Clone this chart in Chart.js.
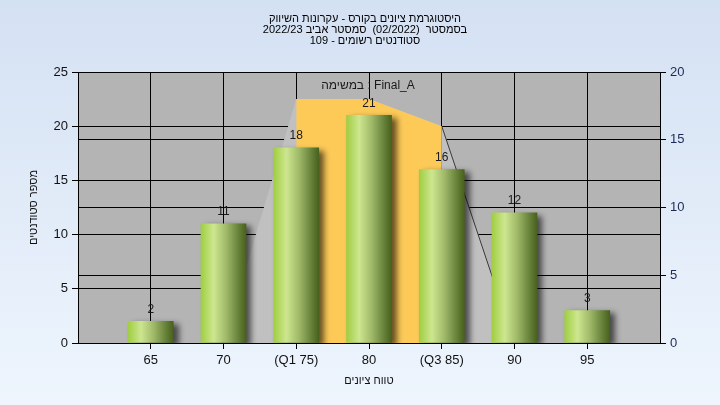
<!DOCTYPE html>
<html>
<head>
<meta charset="utf-8">
<script src="https://cdn.jsdelivr.net/npm/chart.js@4.4.0/dist/chart.umd.min.js"></script>
<style>
  html, body { margin: 0; padding: 0; }
  #wrap { width: 720px; height: 405px; }
</style>
</head>
<body>
<div id="wrap"><canvas id="histChart"></canvas></div>
<script>
// נתוני ההיסטוגרמה
const grades = [65, 70, 75, 80, 85, 90, 95];
const studentCounts = [2, 11, 18, 21, 16, 12, 3];
const q1Grade = 75;
const q3Grade = 85;

// עקומת ההתפלגות (ציר ימני)
const curveGrades = [70, 75, 80, 85, 90];
const curveValues = [0, 18, 18, 16, 0];

const titleLines = [
    'היסטוגרמת ציונים בקורס - עקרונות השיווק',
    'בסמסטר  (02/2022)  סמסטר אביב 2022/23',
    'סטודנטים רשומים - 109'
];
const xTitle = 'טווח ציונים';
const yTitle = 'מספר סטודנטים';
const legendText = 'במשימה : Final_A';

const FONT = "'Liberation Sans', Arial, sans-serif";

function tickLabel(v) {
    if (v === q1Grade) return '(Q1 ' + v + ')';
    if (v === q3Grade) return '(Q3 ' + v + ')';
    if (v <= 60 || v >= 100) return '';
    return String(v);
}

const backgroundPlugin = {
    id: 'background',
    beforeDraw(chart) {
        const ctx = chart.ctx;
        const a = chart.chartArea;
        const g = ctx.createLinearGradient(0, 0, 0, chart.height);
        g.addColorStop(0, '#d4e1f3');
        g.addColorStop(1, '#eef5fd');
        ctx.save();
        ctx.fillStyle = g;
        ctx.fillRect(0, 0, chart.width, chart.height);
        ctx.fillStyle = '#b4b4b4';
        ctx.fillRect(a.left, a.top, a.right - a.left, a.bottom - a.top);
        ctx.restore();
    },
    afterDraw(chart) {
        const ctx = chart.ctx;
        ctx.save();
        ctx.direction = 'rtl';
        ctx.fillStyle = '#000';
        ctx.font = '11px ' + FONT;
        ctx.textAlign = 'center';
        ctx.textBaseline = 'middle';
        titleLines.forEach((t, i) => ctx.fillText(t, 365, 19 + i * 11));
        ctx.restore();
    }
};

const shadowPlugin = {
    id: 'barShadow',
    beforeDatasetDraw(chart, args) {
        if (args.meta.type !== 'bar') return;
        const ctx = chart.ctx;
        ctx.save();
        ctx.shadowColor = 'rgba(0,0,0,0.6)';
        ctx.shadowBlur = 6;
        ctx.shadowOffsetX = 5;
        ctx.shadowOffsetY = 3;
    },
    afterDatasetDraw(chart, args) {
        if (args.meta.type !== 'bar') return;
        chart.ctx.restore();
    }
};

const labelsPlugin = {
    id: 'valueLabels',
    afterDatasetsDraw(chart) {
        const ctx = chart.ctx;
        const meta = chart.getDatasetMeta(0);
        ctx.save();
        ctx.font = '12px ' + FONT;
        ctx.fillStyle = '#1a1a1a';
        ctx.textAlign = 'center';
        ctx.textBaseline = 'middle';
        meta.data.forEach((bar, i) => {
            ctx.fillText(String(studentCounts[i]), bar.x, bar.y - 12);
        });
        ctx.fillText(legendText, 368, 86);
        ctx.restore();
    }
};

function barGradient(c) {
    const chart = c.chart;
    if (c.type !== 'data' || !chart.chartArea || !chart.scales.x) return '#9cc84a';
    const cx = chart.scales.x.getPixelForValue(grades[c.dataIndex]);
    const g = chart.ctx.createLinearGradient(cx - 22.5, 0, cx + 22.5, 0);
    g.addColorStop(0, '#a0ce42');
    g.addColorStop(0.28, '#cde68f');
    g.addColorStop(0.55, '#a2bb6b');
    g.addColorStop(0.8, '#6d8840');
    g.addColorStop(1, '#48611d');
    return g;
}

const ctx = document.getElementById('histChart').getContext('2d');
new Chart(ctx, {
    type: 'bar',
    data: {
        datasets: [
            {
                type: 'bar',
                data: grades.map((g, i) => ({ x: g, y: studentCounts[i] })),
                backgroundColor: barGradient,
                borderWidth: 0,
                barThickness: 45,
                yAxisID: 'y',
                order: 0
            },
            {
                type: 'line',
                data: curveGrades.map((g, i) => ({ x: g, y: curveValues[i] }))
                    .filter(p => p.x >= q1Grade && p.x <= q3Grade),
                backgroundColor: '#fdca58',
                borderWidth: 0,
                borderColor: 'transparent',
                fill: 'origin',
                pointRadius: 0,
                tension: 0,
                yAxisID: 'y1',
                order: 1
            },
            {
                type: 'line',
                data: curveGrades.map((g, i) => ({ x: g, y: curveValues[i] })),
                backgroundColor: '#c0c0c0',
                borderWidth: 1,
                borderColor: 'transparent',
                segment: {
                    borderColor: s => s.p0.parsed.x === q3Grade ? '#3a3a3a' : 'transparent'
                },
                fill: 'origin',
                pointRadius: 0,
                tension: 0,
                yAxisID: 'y1',
                order: 2
            }
        ]
    },
    options: {
        responsive: true,
        maintainAspectRatio: false,
        animation: false,
        layout: { padding: { top: 72, left: 0, right: 0, bottom: 0 } },
        plugins: {
            legend: { display: false },
            tooltip: { enabled: false },
            title: { display: false }
        },
        scales: {
            x: {
                type: 'linear',
                min: 60,
                max: 100,
                offset: false,
                afterFit: s => { s.height = 62; },
                grid: {
                    offset: false,
                    color: '#000',
                    tickColor: c => (c.tick && (c.tick.value <= 60 || c.tick.value >= 100)) ? 'transparent' : '#000',
                    tickLength: 6
                },
                border: { color: '#000' },
                ticks: {
                    stepSize: 5,
                    autoSkip: false,
                    maxRotation: 0,
                    padding: 4,
                    color: '#111',
                    font: { family: FONT, size: 13 },
                    callback: v => tickLabel(v)
                },
                title: {
                    display: true,
                    text: xTitle,
                    color: '#111',
                    font: { family: FONT, size: 11 },
                    padding: { top: 0, bottom: 17 }
                }
            },
            y: {
                position: 'left',
                min: 0,
                max: 25,
                afterFit: s => { s.width = 78; },
                grid: { color: '#000', tickColor: '#000', tickLength: 6 },
                border: { color: '#000' },
                ticks: {
                    stepSize: 5,
                    padding: 4,
                    color: '#111',
                    font: { family: FONT, size: 13 }
                },
                title: {
                    display: true,
                    text: yTitle,
                    color: '#111',
                    font: { family: FONT, size: 11 },
                    padding: { top: 27, bottom: 0 }
                }
            },
            y1: {
                position: 'right',
                min: 0,
                max: 20,
                afterFit: s => { s.width = 60; },
                grid: { color: '#000', tickColor: '#000', tickLength: 6 },
                border: { color: '#000' },
                ticks: {
                    stepSize: 5,
                    padding: 4,
                    color: '#1b2b55',
                    font: { family: FONT, size: 13 }
                }
            }
        }
    },
    plugins: [backgroundPlugin, shadowPlugin, labelsPlugin]
});
</script>
</body>
</html>
